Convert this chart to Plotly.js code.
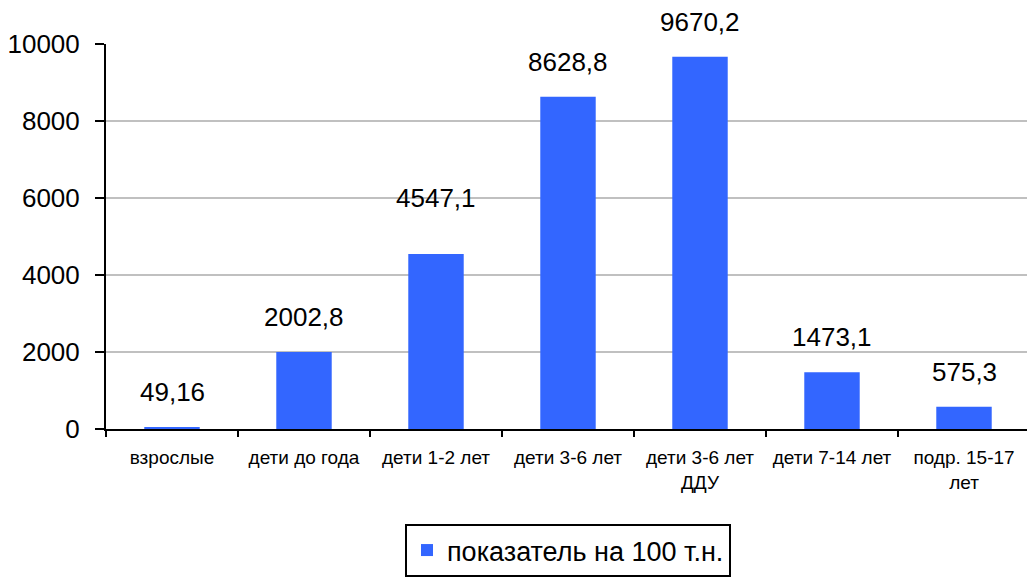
<!DOCTYPE html>
<html>
<head>
<meta charset="utf-8">
<script src="https://cdn.plot.ly/plotly-3.0.1.min.js"></script>
<style>html,body{margin:0;padding:0;overflow:hidden;background:#fff;}#chart{width:1030px;height:577px;}</style>
</head>
<body>
<div id="chart"></div>
<script>
const categories = ["взрослые", "дети до года", "дети 1-2 лет", "дети 3-6 лет", "дети 3-6 лет<br>ДДУ", "дети 7-14 лет", "подр. 15-17<br>лет"];
const values = [49.16, 2002.8, 4547.1, 8628.8, 9670.2, 1473.1, 575.3];
const valueLabels = ["49,16", "2002,8", "4547,1", "8628,8", "9670,2", "1473,1", "575,3"];
const seriesName = "показатель на 100 т.н.";
const yTicks = [0, 2000, 4000, 6000, 8000, 10000];

const font = "Liberation Sans, Arial, sans-serif";

const annotations = categories.map((c, i) => ({
  x: c, y: values[i], xref: 'x', yref: 'y',
  text: valueLabels[i], showarrow: false,
  yanchor: 'bottom', yshift: (i === 2 ? 39 : 18),
  font: {family: font, size: 26, color: '#000'}
}));

Plotly.newPlot('chart', [{
  type: 'bar', x: categories, y: values, name: seriesName,
  width: 0.42, marker: {color: '#3366FF', line: {width: 0}},
  showlegend: true, hoverinfo: 'none'
}], {
  width: 1030, height: 577,
  margin: {l: 106, r: 0, t: 44, b: 145},
  paper_bgcolor: '#fff', plot_bgcolor: '#fff',
  font: {family: font, color: '#000'},
  xaxis: {
    type: 'category', tickson: 'boundaries', ticks: 'outside', ticklen: 6, tickwidth: 2, tickcolor: '#000',
    showline: true, linecolor: '#000', linewidth: 2, showgrid: false,
    ticklabelstandoff: 10,
    tickfont: {family: font, size: 19, color: '#000'}, automargin: false
  },
  yaxis: {
    range: [0, 10000], tickvals: yTicks, ticktext: yTicks.map(String),
    ticks: 'outside', ticklen: 9, tickwidth: 2, tickcolor: '#000',
    showline: true, linecolor: '#000', linewidth: 2,
    showgrid: true, gridcolor: '#C0C0C0', gridwidth: 2, zeroline: false,
    ticklabelstandoff: 10,
    tickfont: {family: font, size: 26, color: '#000'}, automargin: false
  },
  showlegend: true,
  legend: {
    orientation: 'h', x: 0.5, xanchor: 'center', y: -0.247, yanchor: 'top',
    bordercolor: '#000', borderwidth: 2, bgcolor: '#fff',
    font: {family: font, size: 27, color: '#000'}
  },
  annotations: annotations
}, {staticPlot: true});
</script>
</body>
</html>
